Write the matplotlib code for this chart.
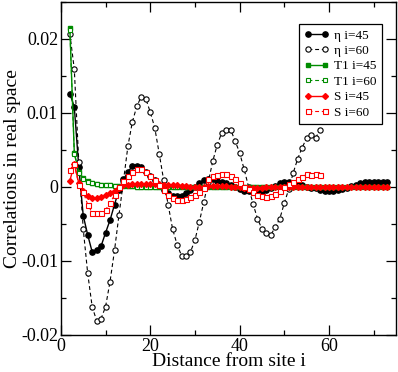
import numpy as np
import matplotlib
matplotlib.use("Agg")
import matplotlib.pyplot as plt
from matplotlib.ticker import MultipleLocator

plt.rcParams['font.family'] = ['Liberation Serif', 'DejaVu Serif']

# eta, i=60 (open circles)
x_eta60 = list(range(2, 59))
eta60 = [0.0207, 0.0159, 0.0034, -0.0057, -0.0117, -0.0162, -0.0181, -0.0178, -0.0162,
         -0.0128, -0.0086, -0.0038, 0.0008, 0.0055, 0.0088, 0.0109, 0.0122, 0.0119,
         0.0101, 0.0080, 0.0045, 0.0009, -0.0024, -0.0057, -0.0078, -0.0093, -0.0094,
         -0.0088, -0.0072, -0.0047, -0.0020, 0.0007, 0.0035, 0.0057, 0.0073, 0.0077,
         0.0077, 0.0062, 0.0046, 0.0024, 0.0000, -0.0023, -0.0043, -0.0057, -0.0063,
         -0.0065, -0.0054, -0.0043, -0.0022, -0.0003, 0.0019, 0.0038, 0.0053, 0.0066,
         0.0070, 0.0066, 0.0077]

# eta, i=45 (filled circles)
x_eta45 = list(range(2, 74))
eta45 = [0.0126, 0.0108, 0.0027, -0.0039, -0.0065, -0.0088, -0.0085, -0.0080, -0.0062,
         -0.0045, -0.0024, -0.0004, 0.0010, 0.0020, 0.0028, 0.0028, 0.0027, 0.0020,
         0.0014, 0.0009, 0.0003, -0.0004, -0.0009, -0.0013, -0.0013, -0.0012, -0.0008,
         -0.0004, 0.0000, 0.0005, 0.0009, 0.0011, 0.0010, 0.0008, 0.0007, 0.0005,
         0.0003, 0.0000, -0.0003, -0.0005, -0.0006, -0.0007, -0.0007, -0.0006, -0.0004,
         -0.0002, 0.0001, 0.0005, 0.0007, 0.0007, 0.0005, 0.0004, 0.0002, 0.0000,
         -0.0001, -0.0002, -0.0004, -0.0005, -0.0006, -0.0005, -0.0004, -0.0003, -0.0001,
         0.0001, 0.0003, 0.0005, 0.0006, 0.0006, 0.0006, 0.0006, 0.0007, 0.0007]

# T1, i=45 (filled squares)
x_t45 = list(range(2, 74))
t45 = [0.0215, 0.0046, 0.0020, 0.0012, 0.0008, 0.0005, 0.0004, 0.0003, 0.0002, 0.0002,
       0.0001, 0.0001, 0.0001, 0.0001, 0.0001, 0.0000, 0.0000, 0.0000, 0.0000, 0.0000,
       0.0000, 0.0000, 0.0000, 0.0000, 0.0000, 0.0000, 0.0000, 0.0000, 0.0000, 0.0000,
       0.0000, 0.0000, 0.0000, 0.0000, 0.0000, 0.0000, 0.0000, 0.0000, 0.0000, 0.0000,
       0.0000, 0.0000, 0.0000, 0.0000, 0.0000, 0.0000, 0.0000, 0.0000, 0.0000, 0.0000,
       0.0000, 0.0000, 0.0000, 0.0000, 0.0000, 0.0000, 0.0000, 0.0000, 0.0000, 0.0000,
       0.0000, 0.0000, 0.0000, 0.0000, 0.0000, 0.0000, 0.0000, 0.0000, 0.0000, 0.0000,
       0.0000, 0.0000]

# T1, i=60 (open squares)
x_t60 = list(range(2, 59))
t60 = [0.0212, 0.0045, 0.0019, 0.0011, 0.0007, 0.0005, 0.0004, 0.0003, 0.0002, 0.0002,
       0.0001, 0.0001, 0.0001, 0.0001, 0.0001, 0.0000, 0.0000, 0.0000, 0.0000, 0.0000,
       0.0000, 0.0000, 0.0000, 0.0000, 0.0000, 0.0000, 0.0000, 0.0000, 0.0000, 0.0000,
       0.0000, 0.0000, 0.0000, 0.0000, 0.0000, 0.0000, 0.0000, 0.0000, 0.0000, 0.0000,
       0.0000, 0.0000, 0.0000, 0.0000, 0.0000, 0.0000, 0.0000, 0.0000, 0.0000, 0.0000,
       0.0000, 0.0000, 0.0000, 0.0000, 0.0000, 0.0000, 0.0000]

# S, i=45 (filled diamonds)
x_s45 = list(range(2, 74))
s45 = [0.0008, 0.0031, 0.0005, -0.0005, -0.0012, -0.0015, -0.0015, -0.0014, -0.0011,
       -0.0008, -0.0005, -0.0002, 0.0002, 0.0003, 0.0004, 0.0004, 0.0004, 0.0004,
       0.0004, 0.0004, 0.0004, 0.0003, 0.0003, 0.0002, 0.0002, 0.0001, 0.0001, 0.0000,
       0.0000, 0.0000, 0.0000, 0.0001, 0.0001, 0.0001, 0.0001, 0.0001, 0.0000, 0.0000,
       0.0000, -0.0001, -0.0001, -0.0001, -0.0001, -0.0001, 0.0000, 0.0000, 0.0000,
       0.0000, 0.0000, 0.0000, 0.0000, 0.0000, 0.0000, 0.0000, 0.0000, 0.0000, 0.0000,
       0.0000, 0.0000, 0.0000, 0.0000, 0.0000, 0.0000, 0.0000, 0.0000, 0.0000, 0.0000,
       0.0000, 0.0000, 0.0000, 0.0000, 0.0000]

# S, i=60 (open squares)
x_s60 = list(range(2, 59))
s60 = [0.0023, 0.0031, 0.0003, -0.0007, -0.0024, -0.0035, -0.0035, -0.0035, -0.0031,
       -0.0022, -0.0011, 0.0000, 0.0008, 0.0015, 0.0020, 0.0024, 0.0024, 0.0020,
       0.0015, 0.0009, 0.0003, -0.0004, -0.0011, -0.0015, -0.0018, -0.0018, -0.0016,
       -0.0014, -0.0011, -0.0007, -0.0002, 0.0010, 0.0014, 0.0016, 0.0017, 0.0017,
       0.0014, 0.0010, 0.0005, 0.0000, -0.0003, -0.0007, -0.0011, -0.0013, -0.0014,
       -0.0013, -0.0010, -0.0005, 0.0000, 0.0004, 0.0007, 0.0011, 0.0013, 0.0017,
       0.0016, 0.0018, 0.0016]

green = '#008c00'
red = '#ff0000'

fig = plt.figure(figsize=(3.98, 3.72), dpi=100)
ax = fig.add_axes([0.153, 0.1, 0.842, 0.895])

ax.plot(x_eta45, eta45, '-', color='black', lw=1.0, marker='o', ms=3.8,
        mfc='black', mec='black', label='η i=45')
ax.plot(x_eta60, eta60, '--', color='black', lw=0.8, marker='o', ms=3.8,
        mfc='white', mec='black', mew=0.8, dashes=(3.5, 2.5), label='η i=60')
ax.plot(x_t45, t45, '-', color=green, lw=1.0, marker='s', ms=3.5,
        mfc=green, mec=green, label='T1 i=45')
ax.plot(x_t60, t60, '--', color=green, lw=0.8, marker='s', ms=3.3,
        mfc='white', mec=green, mew=0.8, dashes=(3.5, 2.5), label='T1 i=60')
ax.plot(x_s45, s45, '-', color=red, lw=1.0, marker='D', ms=3.0,
        mfc=red, mec=red, label='S i=45')
ax.plot(x_s60, s60, '--', color=red, lw=0.8, marker='s', ms=3.6,
        mfc='white', mec=red, mew=0.8, dashes=(3.5, 2.5), label='S i=60')

ax.set_xlim(0, 75)
ax.set_ylim(-0.02, 0.025)
ax.xaxis.set_minor_locator(MultipleLocator(10))
ax.yaxis.set_minor_locator(MultipleLocator(0.005))
ax.set_xticks([0, 20, 40, 60])
ax.set_xticklabels(['0', '20', '40', '60'])
ax.set_yticks([-0.02, -0.01, 0, 0.01, 0.02])
ax.set_yticklabels(['-0.02', '-0.01', '0', '0.01', '0.02'])
ax.tick_params(which='both', direction='in', top=True, right=True, labelsize=13, width=0.9)
ax.tick_params(which='major', length=7, pad=2)
ax.tick_params(which='minor', length=3.5)
for s in ax.spines.values():
    s.set_linewidth(1.0)

ax.set_xlabel('Distance from site i', fontsize=14, labelpad=-1)
ax.set_ylabel('Correlations in real space', fontsize=14, labelpad=0)

leg = ax.legend(loc='upper right', bbox_to_anchor=(0.958, 0.933), fontsize=9.5,
                numpoints=2, handlelength=1.9, fancybox=False, framealpha=1,
                edgecolor='black', borderpad=0.4, labelspacing=0.24,
                handletextpad=0.4, borderaxespad=0)
leg.get_frame().set_linewidth(0.9)

fig.savefig('out.png', dpi=100)
